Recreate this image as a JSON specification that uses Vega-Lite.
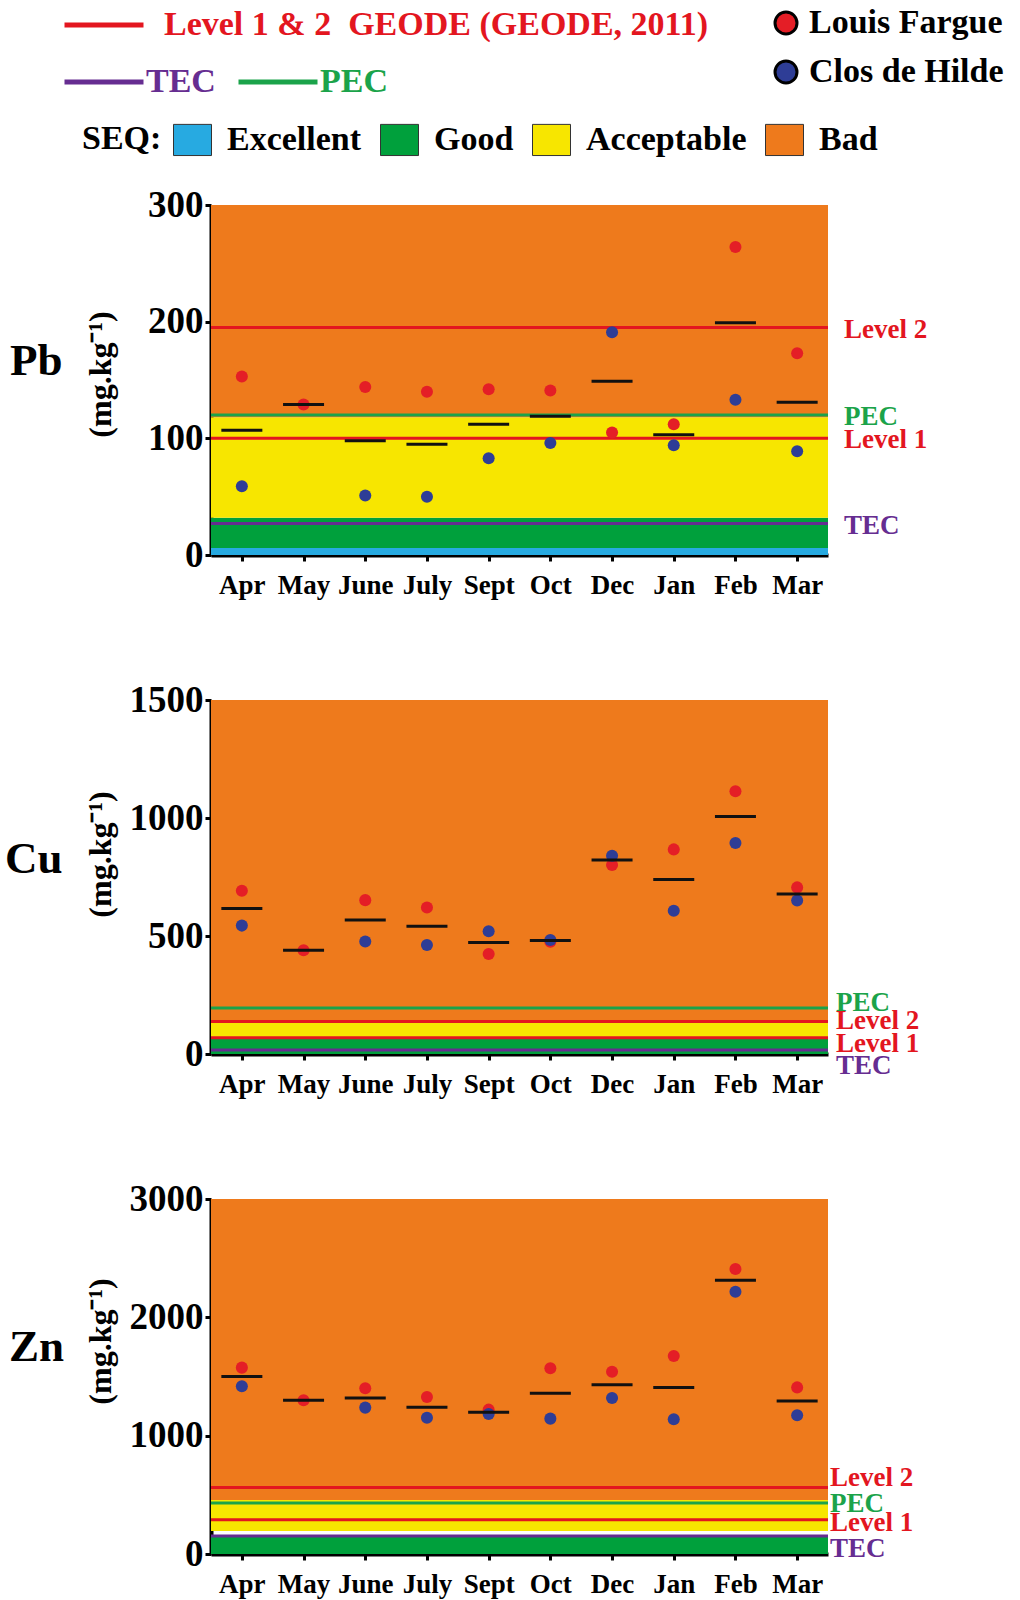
{
  "$schema": "https://vega.github.io/schema/vega-lite/v6.json",
  "autosize": {"type": "none"},
  "padding": {"left": 211, "top": 205, "right": 809, "bottom": 1395},
  "background": "white",
  "spacing": 145,
  "bounds": "flush",
  "datasets": {
    "conc": [
      {"el":"Pb","month":"Apr","site":"Louis Fargue","v":153},
      {"el":"Pb","month":"May","site":"Louis Fargue","v":129},
      {"el":"Pb","month":"June","site":"Louis Fargue","v":144},
      {"el":"Pb","month":"July","site":"Louis Fargue","v":140},
      {"el":"Pb","month":"Sept","site":"Louis Fargue","v":142},
      {"el":"Pb","month":"Oct","site":"Louis Fargue","v":141},
      {"el":"Pb","month":"Dec","site":"Louis Fargue","v":105},
      {"el":"Pb","month":"Jan","site":"Louis Fargue","v":112},
      {"el":"Pb","month":"Feb","site":"Louis Fargue","v":264},
      {"el":"Pb","month":"Mar","site":"Louis Fargue","v":173},
      {"el":"Pb","month":"Apr","site":"Clos de Hilde","v":59},
      {"el":"Pb","month":"June","site":"Clos de Hilde","v":51},
      {"el":"Pb","month":"July","site":"Clos de Hilde","v":50},
      {"el":"Pb","month":"Sept","site":"Clos de Hilde","v":83},
      {"el":"Pb","month":"Oct","site":"Clos de Hilde","v":96},
      {"el":"Pb","month":"Dec","site":"Clos de Hilde","v":191},
      {"el":"Pb","month":"Jan","site":"Clos de Hilde","v":94},
      {"el":"Pb","month":"Feb","site":"Clos de Hilde","v":133},
      {"el":"Pb","month":"Mar","site":"Clos de Hilde","v":89},
      {"el":"Cu","month":"Apr","site":"Louis Fargue","v":692},
      {"el":"Cu","month":"May","site":"Louis Fargue","v":440},
      {"el":"Cu","month":"June","site":"Louis Fargue","v":652},
      {"el":"Cu","month":"July","site":"Louis Fargue","v":621},
      {"el":"Cu","month":"Sept","site":"Louis Fargue","v":424},
      {"el":"Cu","month":"Oct","site":"Louis Fargue","v":476},
      {"el":"Cu","month":"Dec","site":"Louis Fargue","v":801},
      {"el":"Cu","month":"Jan","site":"Louis Fargue","v":867},
      {"el":"Cu","month":"Feb","site":"Louis Fargue","v":1113},
      {"el":"Cu","month":"Mar","site":"Louis Fargue","v":706},
      {"el":"Cu","month":"Apr","site":"Clos de Hilde","v":544},
      {"el":"Cu","month":"June","site":"Clos de Hilde","v":477},
      {"el":"Cu","month":"July","site":"Clos de Hilde","v":462},
      {"el":"Cu","month":"Sept","site":"Clos de Hilde","v":520},
      {"el":"Cu","month":"Oct","site":"Clos de Hilde","v":483},
      {"el":"Cu","month":"Dec","site":"Clos de Hilde","v":840},
      {"el":"Cu","month":"Jan","site":"Clos de Hilde","v":607},
      {"el":"Cu","month":"Feb","site":"Clos de Hilde","v":894},
      {"el":"Cu","month":"Mar","site":"Clos de Hilde","v":650},
      {"el":"Zn","month":"Apr","site":"Louis Fargue","v":1575},
      {"el":"Zn","month":"May","site":"Louis Fargue","v":1299},
      {"el":"Zn","month":"June","site":"Louis Fargue","v":1400},
      {"el":"Zn","month":"July","site":"Louis Fargue","v":1327},
      {"el":"Zn","month":"Sept","site":"Louis Fargue","v":1220},
      {"el":"Zn","month":"Oct","site":"Louis Fargue","v":1569},
      {"el":"Zn","month":"Dec","site":"Louis Fargue","v":1541},
      {"el":"Zn","month":"Jan","site":"Louis Fargue","v":1673},
      {"el":"Zn","month":"Feb","site":"Louis Fargue","v":2408},
      {"el":"Zn","month":"Mar","site":"Louis Fargue","v":1408},
      {"el":"Zn","month":"Apr","site":"Clos de Hilde","v":1417},
      {"el":"Zn","month":"June","site":"Clos de Hilde","v":1237},
      {"el":"Zn","month":"July","site":"Clos de Hilde","v":1152},
      {"el":"Zn","month":"Sept","site":"Clos de Hilde","v":1183},
      {"el":"Zn","month":"Oct","site":"Clos de Hilde","v":1144},
      {"el":"Zn","month":"Dec","site":"Clos de Hilde","v":1318},
      {"el":"Zn","month":"Jan","site":"Clos de Hilde","v":1138},
      {"el":"Zn","month":"Feb","site":"Clos de Hilde","v":2217},
      {"el":"Zn","month":"Mar","site":"Clos de Hilde","v":1172}
    ],
    "means": [
      {"el":"Pb","month":"Apr","v":107},{"el":"Pb","month":"May","v":129},{"el":"Pb","month":"June","v":98},{"el":"Pb","month":"July","v":95},{"el":"Pb","month":"Sept","v":112},{"el":"Pb","month":"Oct","v":119},{"el":"Pb","month":"Dec","v":149},{"el":"Pb","month":"Jan","v":103},{"el":"Pb","month":"Feb","v":199},{"el":"Pb","month":"Mar","v":131},
      {"el":"Cu","month":"Apr","v":617},{"el":"Cu","month":"May","v":440},{"el":"Cu","month":"June","v":568},{"el":"Cu","month":"July","v":541},{"el":"Cu","month":"Sept","v":472},{"el":"Cu","month":"Oct","v":481},{"el":"Cu","month":"Dec","v":822},{"el":"Cu","month":"Jan","v":739},{"el":"Cu","month":"Feb","v":1006},{"el":"Cu","month":"Mar","v":678},
      {"el":"Zn","month":"Apr","v":1499},{"el":"Zn","month":"May","v":1299},{"el":"Zn","month":"June","v":1318},{"el":"Zn","month":"July","v":1240},{"el":"Zn","month":"Sept","v":1197},{"el":"Zn","month":"Oct","v":1358},{"el":"Zn","month":"Dec","v":1431},{"el":"Zn","month":"Jan","v":1406},{"el":"Zn","month":"Feb","v":2313},{"el":"Zn","month":"Mar","v":1293}
    ],
    "bands": [
      {"el":"Pb","seq":"Excellent","v":0,"v2":6},
      {"el":"Pb","seq":"Good","v":6,"v2":32},
      {"el":"Pb","seq":"Acceptable","v":32,"v2":118},
      {"el":"Pb","seq":"Bad","v":118,"v2":300},
      {"el":"Cu","seq":"Good","v":0,"v2":69},
      {"el":"Cu","seq":"Acceptable","v":69,"v2":133},
      {"el":"Cu","seq":"Bad","v":133,"v2":1500},
      {"el":"Zn","seq":"Good","v":0,"v2":145},
      {"el":"Zn","seq":"Acceptable","v":194,"v2":456},
      {"el":"Zn","seq":"Bad","v":456,"v2":3000}
    ],
    "thr": [
      {"el":"Pb","type":"Level 2","group":"Level 1 & 2\u00a0 GEODE (GEODE, 2011)","v":195},
      {"el":"Pb","type":"PEC","group":"PEC","v":120},
      {"el":"Pb","type":"Level 1","group":"Level 1 & 2\u00a0 GEODE (GEODE, 2011)","v":100},
      {"el":"Pb","type":"TEC","group":"TEC","v":27},
      {"el":"Cu","type":"PEC","group":"PEC","v":195},
      {"el":"Cu","type":"Level 2","group":"Level 1 & 2\u00a0 GEODE (GEODE, 2011)","v":138},
      {"el":"Cu","type":"Level 1","group":"Level 1 & 2\u00a0 GEODE (GEODE, 2011)","v":69},
      {"el":"Cu","type":"TEC","group":"TEC","v":17},
      {"el":"Zn","type":"Level 2","group":"Level 1 & 2\u00a0 GEODE (GEODE, 2011)","v":563},
      {"el":"Zn","type":"PEC","group":"PEC","v":431},
      {"el":"Zn","type":"Level 1","group":"Level 1 & 2\u00a0 GEODE (GEODE, 2011)","v":290},
      {"el":"Zn","type":"TEC","group":"TEC","v":152}
    ]
  },
  "vconcat": [
    {
      "width": 617, "height": 350,
      "title": {"text": "Pb", "orient": "left", "anchor": "middle", "angle": 0, "align": "right", "baseline": "middle", "offset": -31, "dy": -19, "font": "Liberation Serif", "fontSize": 45, "fontWeight": "bold", "color": "black"},
      "encoding": {"y": {"field": "v", "type": "quantitative", "scale": {"domain": [0, 300], "nice": false, "zero": true}, "axis": {"values": [0, 100, 200, 300], "format": "d", "title": "(mg.kg⁻¹)", "titleX": -111, "titleY": 169}}},
      "layer": [
        {"data": {"name": "bands"}, "transform": [{"filter": "datum.el === 'Pb'"}], "mark": {"type": "rect"},
         "encoding": {"y2": {"field": "v2"}, "fill": {"field": "seq", "type": "nominal", "scale": {"domain": ["Excellent", "Good", "Acceptable", "Bad"], "range": ["#27aae1", "#00a03c", "#f7e600", "#ee7a1c"]},
           "legend": {"orient": "none", "legendX": -129, "legendY": -85, "title": "SEQ:", "titleOrient": "left", "titlePadding": 11, "direction": "horizontal", "symbolType": "M-1,-0.82H1V0.82H-1Z", "symbolSize": 1444, "labelOffset": 15, "columnPadding": 16, "symbolStrokeColor": "#333333", "symbolStrokeWidth": 1}}}},
        {"data": {"name": "thr"}, "transform": [{"filter": "datum.el === 'Pb' && datum.group !== 'TEC' && datum.group !== 'PEC'"}], "mark": {"type": "rule", "strokeWidth": 3, "color": "#e3161f"},
         "encoding": {"strokeDash": {"field": "group", "type": "nominal", "scale": {"domain": ["Level 1 & 2\u00a0 GEODE (GEODE, 2011)"], "range": [[1, 0]]},
           "legend": {"orient": "none", "legendX": -149, "legendY": -222, "title": null, "symbolType": "stroke", "symbolSize": 6241, "symbolStrokeWidth": 5, "labelOffset": 18, "labelColor": "#e3161f"}}}},
        {"data": {"name": "thr"}, "transform": [{"filter": "datum.el === 'Pb' && (datum.group === 'TEC' || datum.group === 'PEC')"}], "mark": {"type": "rule", "strokeWidth": 3},
         "encoding": {"stroke": {"field": "group", "type": "nominal", "scale": {"domain": ["TEC", "PEC"], "range": ["#662d91", "#1ba34a"]},
           "legend": {"orient": "none", "legendX": -149, "legendY": -165, "title": null, "direction": "horizontal", "symbolType": "stroke", "symbolSize": 6241, "symbolStrokeWidth": 5, "labelOffset": 0, "columnPadding": 12,
             "labelColor": {"expr": "datum.value === 'TEC' ? '#662d91' : '#1ba34a'"}}}}},
        {"data": {"name": "thr"}, "transform": [{"filter": "datum.el === 'Pb'"}], "mark": {"type": "text", "align": "left", "baseline": "middle", "font": "Liberation Serif", "fontWeight": "bold", "fontSize": 27, "dx": 16, "dy": 2},
         "encoding": {"x": {"value": "width"}, "text": {"field": "type"}, "color": {"condition": [{"test": "datum.type === 'TEC'", "value": "#662d91"}, {"test": "datum.type === 'PEC'", "value": "#1ba34a"}], "value": "#e3161f"}}},
        {"data": {"name": "conc"}, "transform": [{"filter": "datum.el === 'Pb'"}], "mark": {"type": "point", "filled": true, "opacity": 1, "size": 145},
         "encoding": {"x": {"field": "month", "type": "nominal", "scale": {"type": "point", "domain": ["Apr","May","June","July","Sept","Oct","Dec","Jan","Feb","Mar"], "padding": 0.5}, "axis": {"title": null}},
           "color": {"field": "site", "type": "nominal", "scale": {"domain": ["Louis Fargue", "Clos de Hilde"], "range": ["#e41e26", "#2e3d96"]},
           "legend": {"orient": "none", "legendX": 558, "legendY": -199, "title": null, "symbolType": "circle", "symbolSize": 484, "labelOffset": 6, "rowPadding": 15, "symbolStrokeColor": "black", "symbolStrokeWidth": 3, "symbolOpacity": 1}}}},
        {"data": {"name": "means"}, "transform": [{"filter": "datum.el === 'Pb'"}], "mark": {"type": "tick", "color": "#111111", "thickness": 3, "size": 41, "opacity": 1},
         "encoding": {"x": {"field": "month", "type": "nominal", "scale": {"type": "point", "domain": ["Apr","May","June","July","Sept","Oct","Dec","Jan","Feb","Mar"], "padding": 0.5}, "axis": {"title": null}}}}
      ]
    },
    {
      "width": 617, "height": 354,
      "title": {"text": "Cu", "orient": "left", "anchor": "middle", "angle": 0, "align": "right", "baseline": "middle", "offset": -36, "dy": -18, "font": "Liberation Serif", "fontSize": 45, "fontWeight": "bold", "color": "black"},
      "encoding": {"y": {"field": "v", "type": "quantitative", "scale": {"domain": [0, 1500], "nice": false, "zero": true}, "axis": {"values": [0, 500, 1000, 1500], "format": "d", "title": "(mg.kg⁻¹)", "titleX": -111, "titleY": 154}}},
      "layer": [
        {"data": {"name": "bands"}, "transform": [{"filter": "datum.el === 'Cu'"}], "mark": {"type": "rect"},
         "encoding": {"y2": {"field": "v2"}, "fill": {"field": "seq", "type": "nominal"}}},
        {"data": {"name": "thr"}, "transform": [{"filter": "datum.el === 'Cu' && datum.group !== 'TEC' && datum.group !== 'PEC'"}], "mark": {"type": "rule", "strokeWidth": 3, "color": "#e3161f"},
         "encoding": {"strokeDash": {"field": "group", "type": "nominal"}}},
        {"data": {"name": "thr"}, "transform": [{"filter": "datum.el === 'Cu' && (datum.group === 'TEC' || datum.group === 'PEC')"}], "mark": {"type": "rule", "strokeWidth": 3},
         "encoding": {"stroke": {"field": "group", "type": "nominal"}}},
        {"data": {"name": "thr"}, "transform": [{"filter": "datum.el === 'Cu' && datum.type === 'PEC'"}], "mark": {"type": "text", "align": "left", "baseline": "middle", "font": "Liberation Serif", "fontWeight": "bold", "fontSize": 27, "dx": 8, "dy": -5, "color": "#1ba34a"},
         "encoding": {"x": {"value": "width"}, "text": {"field": "type"}}},
        {"data": {"name": "thr"}, "transform": [{"filter": "datum.el === 'Cu' && datum.type === 'Level 2'"}], "mark": {"type": "text", "align": "left", "baseline": "middle", "font": "Liberation Serif", "fontWeight": "bold", "fontSize": 27, "dx": 8, "dy": 0, "color": "#e3161f"},
         "encoding": {"x": {"value": "width"}, "text": {"field": "type"}}},
        {"data": {"name": "thr"}, "transform": [{"filter": "datum.el === 'Cu' && datum.type === 'Level 1'"}], "mark": {"type": "text", "align": "left", "baseline": "middle", "font": "Liberation Serif", "fontWeight": "bold", "fontSize": 27, "dx": 8, "dy": 6, "color": "#e3161f"},
         "encoding": {"x": {"value": "width"}, "text": {"field": "type"}}},
        {"data": {"name": "thr"}, "transform": [{"filter": "datum.el === 'Cu' && datum.type === 'TEC'"}], "mark": {"type": "text", "align": "left", "baseline": "middle", "font": "Liberation Serif", "fontWeight": "bold", "fontSize": 27, "dx": 8, "dy": 16, "color": "#662d91"},
         "encoding": {"x": {"value": "width"}, "text": {"field": "type"}}},
        {"data": {"name": "conc"}, "transform": [{"filter": "datum.el === 'Cu'"}], "mark": {"type": "point", "filled": true, "opacity": 1, "size": 145},
         "encoding": {"x": {"field": "month", "type": "nominal", "scale": {"type": "point", "domain": ["Apr","May","June","July","Sept","Oct","Dec","Jan","Feb","Mar"], "padding": 0.5}, "axis": {"title": null}},
           "color": {"field": "site", "type": "nominal"}}},
        {"data": {"name": "means"}, "transform": [{"filter": "datum.el === 'Cu'"}], "mark": {"type": "tick", "color": "#111111", "thickness": 3, "size": 41, "opacity": 1},
         "encoding": {"x": {"field": "month", "type": "nominal", "scale": {"type": "point", "domain": ["Apr","May","June","July","Sept","Oct","Dec","Jan","Feb","Mar"], "padding": 0.5}, "axis": {"title": null}}}}
      ]
    },
    {
      "width": 617, "height": 355,
      "title": {"text": "Zn", "orient": "left", "anchor": "middle", "angle": 0, "align": "right", "baseline": "middle", "offset": -35, "dy": -30, "font": "Liberation Serif", "fontSize": 45, "fontWeight": "bold", "color": "black"},
      "encoding": {"y": {"field": "v", "type": "quantitative", "scale": {"domain": [0, 3000], "nice": false, "zero": true}, "axis": {"values": [0, 1000, 2000, 3000], "format": "d", "title": "(mg.kg⁻¹)", "titleX": -111, "titleY": 142}}},
      "layer": [
        {"data": {"name": "bands"}, "transform": [{"filter": "datum.el === 'Zn'"}], "mark": {"type": "rect"},
         "encoding": {"y2": {"field": "v2"}, "fill": {"field": "seq", "type": "nominal"}}},
        {"data": {"name": "thr"}, "transform": [{"filter": "datum.el === 'Zn' && datum.group !== 'TEC' && datum.group !== 'PEC'"}], "mark": {"type": "rule", "strokeWidth": 3, "color": "#e3161f"},
         "encoding": {"strokeDash": {"field": "group", "type": "nominal"}}},
        {"data": {"name": "thr"}, "transform": [{"filter": "datum.el === 'Zn' && (datum.group === 'TEC' || datum.group === 'PEC')"}], "mark": {"type": "rule", "strokeWidth": 3},
         "encoding": {"stroke": {"field": "group", "type": "nominal"}}},
        {"data": {"name": "thr"}, "transform": [{"filter": "datum.el === 'Zn' && datum.type === 'Level 2'"}], "mark": {"type": "text", "align": "left", "baseline": "middle", "font": "Liberation Serif", "fontWeight": "bold", "fontSize": 27, "dx": 2, "dy": -9, "color": "#e3161f"},
         "encoding": {"x": {"value": "width"}, "text": {"field": "type"}}},
        {"data": {"name": "thr"}, "transform": [{"filter": "datum.el === 'Zn' && datum.type === 'PEC'"}], "mark": {"type": "text", "align": "left", "baseline": "middle", "font": "Liberation Serif", "fontWeight": "bold", "fontSize": 27, "dx": 2, "dy": 1, "color": "#1ba34a"},
         "encoding": {"x": {"value": "width"}, "text": {"field": "type"}}},
        {"data": {"name": "thr"}, "transform": [{"filter": "datum.el === 'Zn' && datum.type === 'Level 1'"}], "mark": {"type": "text", "align": "left", "baseline": "middle", "font": "Liberation Serif", "fontWeight": "bold", "fontSize": 27, "dx": 2, "dy": 3, "color": "#e3161f"},
         "encoding": {"x": {"value": "width"}, "text": {"field": "type"}}},
        {"data": {"name": "thr"}, "transform": [{"filter": "datum.el === 'Zn' && datum.type === 'TEC'"}], "mark": {"type": "text", "align": "left", "baseline": "middle", "font": "Liberation Serif", "fontWeight": "bold", "fontSize": 27, "dx": 2, "dy": 13, "color": "#662d91"},
         "encoding": {"x": {"value": "width"}, "text": {"field": "type"}}},
        {"data": {"name": "conc"}, "transform": [{"filter": "datum.el === 'Zn'"}], "mark": {"type": "point", "filled": true, "opacity": 1, "size": 145},
         "encoding": {"x": {"field": "month", "type": "nominal", "scale": {"type": "point", "domain": ["Apr","May","June","July","Sept","Oct","Dec","Jan","Feb","Mar"], "padding": 0.5}, "axis": {"title": null}},
           "color": {"field": "site", "type": "nominal"}}},
        {"data": {"name": "means"}, "transform": [{"filter": "datum.el === 'Zn'"}], "mark": {"type": "tick", "color": "#111111", "thickness": 3, "size": 41, "opacity": 1},
         "encoding": {"x": {"field": "month", "type": "nominal", "scale": {"type": "point", "domain": ["Apr","May","June","July","Sept","Oct","Dec","Jan","Feb","Mar"], "padding": 0.5}, "axis": {"title": null}}}}
      ]
    }
  ],
  "config": {
    "view": {"stroke": null},
    "axis": {"domainColor": "black", "domainWidth": 4, "tickColor": "black", "tickWidth": 3, "tickSize": 6, "labelFont": "Liberation Serif", "labelFontWeight": "bold", "labelColor": "black", "grid": false, "titleFont": "Liberation Serif", "titleFontWeight": "bold", "titleColor": "black", "zindex": 1, "labelOverlap": false},
    "axisX": {"labelFontSize": 27, "labelPadding": 11, "labelAngle": 0},
    "axisY": {"labelFontSize": 37, "labelPadding": 2, "titleFontSize": 32, "titleAngle": 270, "titleAlign": "center", "titleBaseline": "middle"},
    "legend": {"labelFont": "Liberation Serif", "labelFontWeight": "bold", "labelFontSize": 34, "labelColor": "black", "titleFont": "Liberation Serif", "titleFontWeight": "bold", "titleFontSize": 34, "titleColor": "black", "labelLimit": 800, "padding": 0, "orient": "none"}
  }
}
